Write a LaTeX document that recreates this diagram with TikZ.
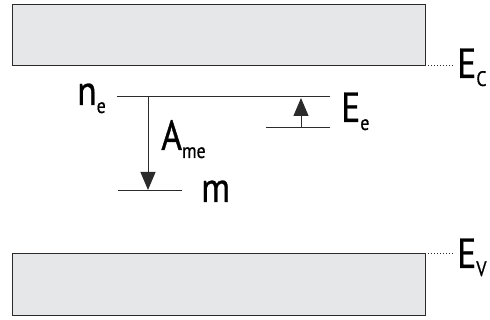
\documentclass[tikz,border=0pt]{standalone}
\usepackage{fontspec}
\setmainfont{PT Sans}[FakeStretch=0.85,FakeBold=0.7]
\usetikzlibrary{arrows.meta}
\definecolor{bandfill}{HTML}{E6E7E8}
\definecolor{linec}{HTML}{2B2B2B}
\newcommand{\bigt}{\fontsize{42}{42}\selectfont}
\newcommand{\subt}[1]{\raisebox{-0.19em}{\fontsize{21}{21}\selectfont #1}}
\begin{document}
\begin{tikzpicture}[x=1pt,y=-1pt,
  band/.style={draw=linec,fill=bandfill,line width=1pt},
  level/.style={draw=linec,line width=1pt},
  lbl/.style={inner sep=0pt,anchor=base west,text=black,font=\bigt},
  trans/.style={draw=linec,line width=1pt,-{Triangle[length=18pt,width=15pt]}},
  dots/.style={draw=linec,line width=1pt,dotted,line cap=butt}]
\useasboundingbox (0,0) rectangle (490,320);
% bands
\draw[band] (12,5) rectangle (425,66);
\draw[band] (12,254) rectangle (425,316);
\coordinate (cb) at (425,66);
\coordinate (cbe) at (454,66);
\coordinate (vb) at (425,254);
\coordinate (vbe) at (454,254);
\draw[dots] (cb) -- (cbe);
\draw[dots] (vb) -- (vbe);
\node[lbl] (EC) at (457,78) {E\subt{C}};
\node[lbl] (EV) at (457,268) {E\subt{V}};
% levels
\coordinate (ne1) at (117,97);
\coordinate (ne2) at (330,97);
\draw[level] (ne1) -- (ne2);
\coordinate (m1) at (118,191);
\coordinate (m2) at (182,191);
\draw[level] (m1) -- (m2);
\coordinate (ee1) at (266,128);
\coordinate (ee2) at (330,128);
\draw[level] (ee1) -- (ee2);
% transitions
\coordinate (at) at (148,97);
\coordinate (ab) at (148,190);
\draw[trans] (at) -- (ab);
\coordinate (et) at (301,98);
\coordinate (eb) at (301,128);
\draw[trans] (eb) -- (et);
% labels
\node[lbl] (ne) at (77,105) {n\subt{e}};
\node[lbl] (Ame) at (161,150) {A\subt{me}};
\node[lbl] (m) at (201,202) {m};
\node[lbl] (Ee) at (341,122) {E\subt{e}};
\end{tikzpicture}
\end{document}
